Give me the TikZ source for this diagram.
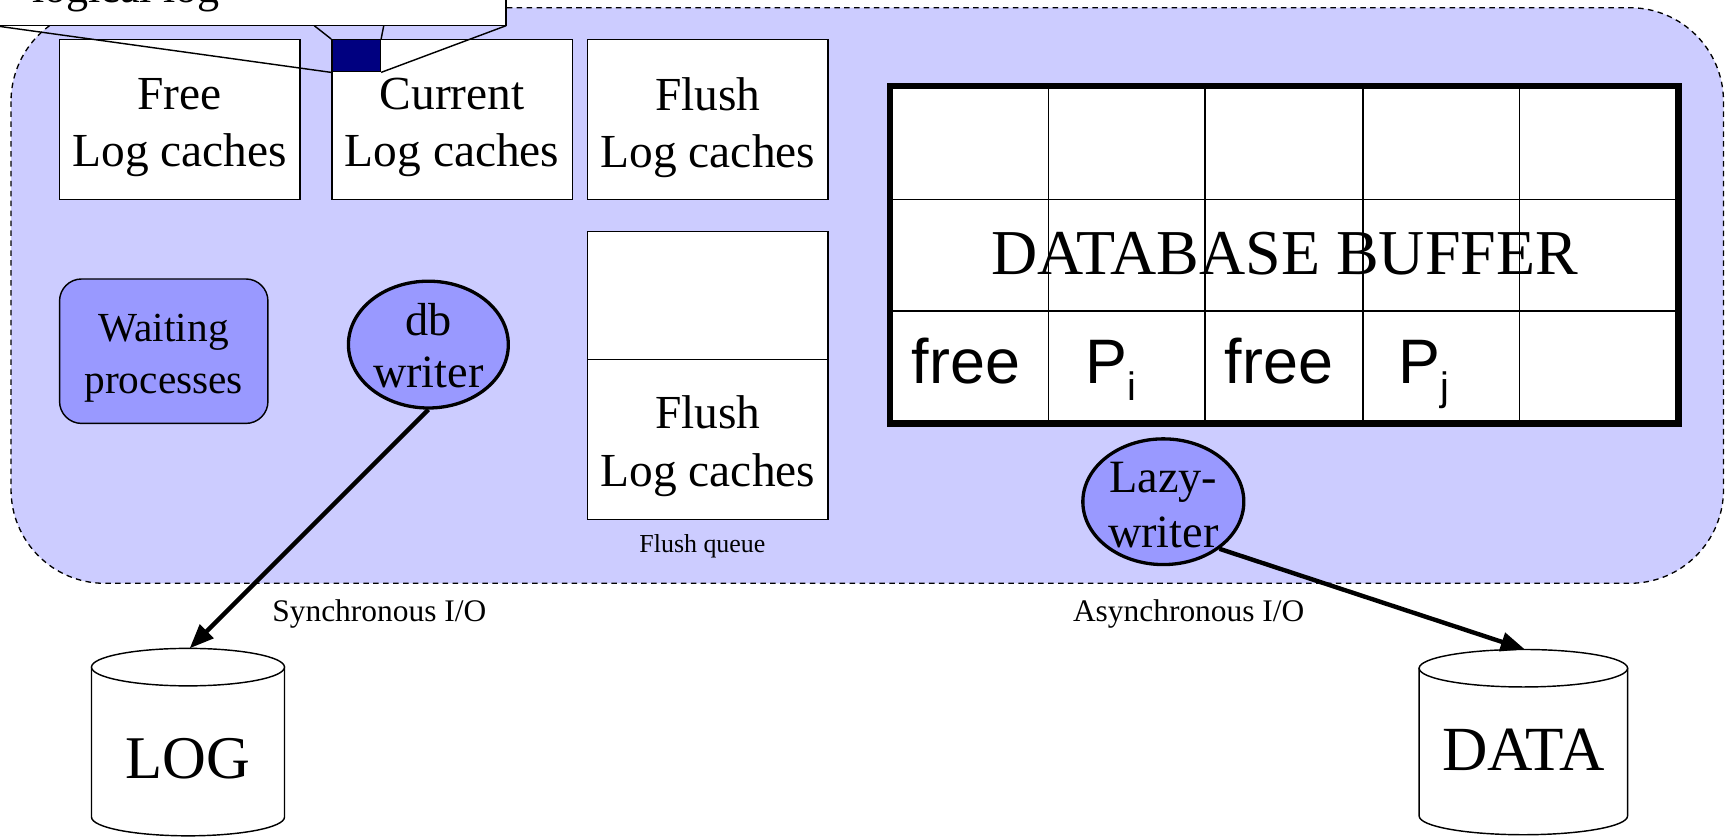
\documentclass[tikz,border=0pt]{standalone}
\usepackage{fontspec}
\setmainfont{Liberation Serif}
\newfontfamily\arialf{Liberation Sans}
\usetikzlibrary{arrows.meta,shapes.geometric}
\definecolor{lav}{HTML}{CCCCFF}
\definecolor{procblue}{HTML}{9999FF}
\definecolor{navyb}{HTML}{000080}
\begin{document}
\begin{tikzpicture}[x=1pt,y=-1pt,
  cache/.style={draw, fill=white, line width=1.3pt, minimum width=218pt, minimum height=145pt,
    inner sep=0pt},
  boxtext/.style={inner sep=0pt, align=center, font=\fontsize{43}{52}\selectfont},
  procell/.style={draw, ellipse, fill=procblue, line width=3pt, inner sep=0pt, align=center,
    minimum width=145pt, minimum height=115pt},
  plain/.style={inner sep=0pt, align=center},
  bigarrow/.style={-{Triangle[length=22pt,width=17pt]}, line width=4pt},
  thin/.style={line width=1.3pt},
  cellfont/.style={font=\arialf\fontsize{57}{60}\selectfont}
]
\useasboundingbox (0,0) rectangle (1568,759);

% shared memory region
\draw[fill=lav, dash pattern=on 5pt off 4pt, line width=1.2pt, rounded corners=85pt]
  (10,7) rectangle (1563,529);

% log cache boxes
\node[cache] (free) at (163,108.5) {};
\node[cache] (cur) at (410,108.5) {};
\node[cache] (flush) at (642,108.5) {};
\node[boxtext] (freet) at ([yshift=-7pt]free.center) {Free\\Log caches};
\node[boxtext] (curt) at ([yshift=-7pt]cur.center) {Current\\Log caches};
\node[boxtext] (flusht) at ([yshift=-7pt]flush.center) {Flush\\Log caches};

% small square and callout
\node[draw, fill=navyb, thin, minimum width=44pt, minimum height=29pt, inner sep=0pt] (sq) at (323,50.5) {};
\coordinate (cbl) at (-5,23.3);
\coordinate (cbr) at (459,23.3);
\coordinate (ctl) at (285,23.3);
\coordinate (ctr) at (348,23.3);
\draw[thin] (sq.south west) -- (cbl);
\draw[thin] (sq.south east) -- (cbr);
\draw[thin] (sq.north west) -- (ctl);
\draw[thin] (sq.north east) -- (ctr);
\draw[thin, fill=white] (-20,-80) rectangle (459,23.3);
\node[plain, anchor=base west, font=\fontsize{40}{48}\selectfont] (logical) at (29,2) {logical log};

% flush queue
\node[cache, minimum height=116pt] (fq1) at (642,268) {};
\node[cache] (fq2) at (642,398.5) {};
\node[boxtext] (fq2t) at ([yshift=-6pt]fq2.center) {Flush\\Log caches};
\node[plain, font=\fontsize{23.5}{28}\selectfont] (fqlabel) at (637,495) {Flush queue};

% waiting processes
\node[draw, fill=procblue, thin, rounded corners=20pt, minimum width=189pt, minimum height=131pt,
  inner sep=0pt] (wait) at (148.5,318.5) {};
\node[plain, font=\fontsize{37.5}{47}\selectfont] (waitt) at ([yshift=-6pt]wait.center)
  {Waiting\\processes};

% db writer
\node[procell] (dbw) at (388.5,312.5) {};
\node[plain, font=\fontsize{42}{48}\selectfont] (dbwt) at ([yshift=-1pt]dbw.center) {db\\writer};

% database buffer
\node[draw, fill=white, line width=4pt, minimum width=713pt, minimum height=304pt, inner sep=0pt]
  (dbbuf) at (1164.5,231) {};
\node[plain, font=\fontsize{58}{62}\selectfont] (dbtext) at (1165,230) {DATABASE BUFFER};
\foreach \xx in {951,1093,1236,1378} {
  \draw[line width=1.5pt] (\xx,79) -- (\xx,383);
}
\foreach \yy in {181,282} {
  \draw[line width=1.5pt] (808,\yy) -- (1521,\yy);
}
\draw[line width=4pt] (dbbuf.north west) rectangle (dbbuf.south east);
\node[plain, cellfont, anchor=base] (free1) at (876,348) {free};
\node[plain, cellfont, anchor=base west] (pi) at (984,348)
  {P\raisebox{-15pt}{\fontsize{36}{36}\selectfont i}};
\node[plain, cellfont, anchor=base] (free2) at (1160,348) {free};
\node[plain, cellfont, anchor=base west] (pj) at (1268,348)
  {P\raisebox{-15pt}{\fontsize{36}{36}\selectfont j}};

% lazy writer
\node[procell, minimum width=146pt, minimum height=114pt] (lazy) at (1055,455) {};
\node[plain, font=\fontsize{42}{50}\selectfont] (lazyt) at ([yshift=-3pt]lazy.center) {Lazy-\\writer};

% LOG cylinder
\draw[thin, fill=white] (83,605) -- (83,741)
  arc[start angle=180, end angle=360, x radius=87.5pt, y radius=17pt] -- (258,605) -- cycle;
\draw[thin, fill=white] (170.5,605) ellipse[x radius=87.5pt, y radius=17pt];
\node[plain, font=\fontsize{55}{60}\selectfont] (logt) at (170.5,688) {LOG};
\coordinate (logtop) at (172,588);

% DATA cylinder
\draw[thin, fill=white] (1287,606) -- (1287,740)
  arc[start angle=180, end angle=360, x radius=94.5pt, y radius=17pt] -- (1476,606) -- cycle;
\draw[thin, fill=white] (1381.5,606) ellipse[x radius=94.5pt, y radius=17pt];
\node[plain, font=\fontsize{57}{60}\selectfont] (datat) at (1381.5,680) {DATA};
\coordinate (datatop) at (1383,589);

% arrows
\draw[bigarrow] (dbw.south) -- (logtop);
\draw[bigarrow] (lazy.-40) -- (datatop);

% I/O labels
\node[plain, font=\fontsize{28.5}{32}\selectfont] (sync) at (344,557) {Synchronous I/O};
\node[plain, font=\fontsize{28.5}{32}\selectfont] (async) at (1078,557) {Asynchronous I/O};
\end{tikzpicture}
\end{document}
